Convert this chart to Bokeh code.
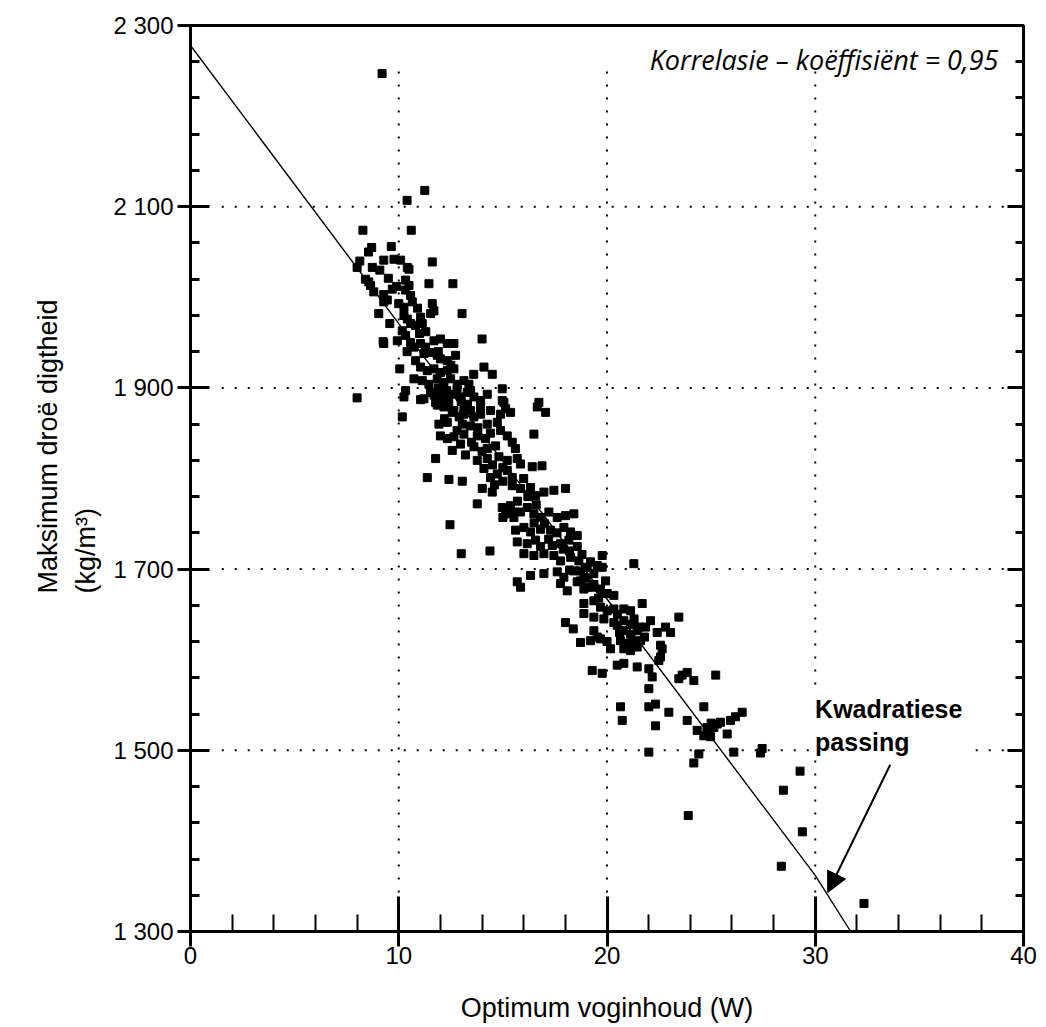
from bokeh.plotting import figure
from bokeh.models import (LinearAxis, FixedTicker, Range1d, Label, Arrow, Title,
                          NormalHead, ColumnDataSource, CustomJSTickFormatter)
from bokeh.embed import file_html
from bokeh.resources import INLINE

# ---------------- data ----------------
moisture = [
    9.2, 11.25, 10.4, 8.28, 10.6, 8.7, 8.55, 9.64, 9.28, 9.77, 10.09, 8.13, 8.0, 8.73, 9.09,
    10.41, 10.49, 11.61, 8.4, 8.65, 8.56, 10.33, 10.49, 10.33, 11.45, 12.6, 8.8, 9.28, 9.69,
    10.57, 10.65, 9.28, 9.45, 10.0, 10.25, 11.61, 11.69, 11.53, 9.04, 10.25, 10.41, 10.57,
    11.05, 11.13, 10.81, 13.04, 9.57, 10.17, 10.33, 9.25, 9.28, 9.93, 10.57, 10.73, 11.05,
    11.29, 11.69, 12.0, 12.33, 12.65, 14.0, 11.21, 11.53, 11.85, 12.0, 12.33, 12.73, 10.81,
    10.05, 11.05, 11.37, 11.69, 12.0, 12.33, 12.65, 14.09, 14.49, 10.73, 11.13, 11.45, 11.85,
    12.17, 12.49, 12.81, 13.13, 13.37, 14.97, 8.0, 10.33, 10.25, 11.05, 11.53, 12.0, 12.33,
    12.65, 12.97, 13.29, 13.61, 13.93, 14.25, 15.05, 11.85, 12.17, 12.65, 13.13, 13.45, 13.93,
    14.41, 14.89, 10.17, 11.21, 11.77, 12.17, 13.45, 14.97, 15.37, 15.13, 16.73, 17.05, 16.65,
    12.57, 13.13, 13.61, 13.93, 11.93, 12.33, 13.05, 13.45, 14.25, 14.73, 14.89, 15.21, 12.0,
    12.33, 12.65, 13.13, 13.77, 14.17, 16.49, 12.57, 12.97, 13.61, 14.25, 14.65, 15.45, 11.77,
    13.77, 14.25, 14.81, 15.21, 15.69, 15.85, 16.41, 16.88, 11.37, 12.41, 13.05, 14.09, 14.41,
    14.73, 15.21, 15.45, 14.01, 14.49, 15.45, 15.85, 16.33, 16.57, 16.97, 17.45, 18.01, 13.77,
    14.97, 15.37, 15.13, 15.53, 15.85, 16.17, 16.49, 16.81, 17.21, 17.61, 18.01, 18.41, 12.46,
    15.61, 16.01, 16.33, 16.81, 17.29, 17.93, 18.25, 18.57, 15.69, 16.17, 16.57, 16.81, 17.37,
    17.77, 18.17, 18.57, 13.0, 14.38, 16.01, 16.49, 16.97, 17.45, 17.77, 18.25, 18.65, 19.21,
    19.77, 16.33, 16.97, 17.61, 17.93, 18.41, 18.89, 19.37, 19.77, 19.93, 15.69, 15.85, 17.77,
    18.09, 18.57, 18.89, 19.37, 19.77, 19.53, 18.73, 19.05, 21.29, 18.73, 19.05, 19.37, 19.69,
    20.01, 20.33, 18.89, 19.37, 19.69, 20.01, 20.33, 20.81, 21.13, 21.69, 18.89, 19.37, 19.85,
    20.33, 20.81, 21.13, 21.53, 22.09, 23.45, 19.37, 19.21, 19.69, 18.73, 20.49, 20.81, 21.13,
    21.45, 21.85, 22.41, 22.81, 23.05, 20.65, 20.97, 21.29, 20.81, 21.13, 21.45, 21.61, 22.57,
    22.65, 20.17, 20.49, 20.81, 19.29, 19.77, 21.45, 22.01, 22.17, 22.49, 22.57, 23.45, 23.85,
    24.17, 23.61, 25.22, 22.01, 20.65, 20.73, 22.01, 22.33, 22.97, 24.65, 22.33, 23.85, 24.33,
    24.65, 24.89, 25.13, 25.29, 25.45, 24.97, 25.77, 25.93, 26.17, 26.49, 22.01, 24.41, 24.17,
    26.09, 27.45, 27.37, 29.27, 28.47, 29.38, 28.37, 32.34, 23.9, 18.01, 18.38, 19.53,
    11.9, 12.3, 12.8, 13.0, 12.4, 11.7, 12.9, 12.2, 13.3, 13.8, 12.8, 13.5, 14.4, 14.0, 13.2,
    14.5, 15.0, 15.6, 15.0, 14.6, 16.0, 16.2, 15.7, 16.6, 17.0, 17.6, 16.5, 17.9, 17.2, 18.2,
    18.8, 19.0, 18.2, 19.6, 20.5, 20.6, 21.3, 20.0, 21.8, 24.8, 25.0, 11.0, 10.9, 11.3, 11.9,
    12.5, 10.4, 9.9, 9.5, 13.6, 15.3, 15.0, 15.5,
]
density = [
    2247, 2118, 2107, 2074, 2074, 2055, 2050, 2056, 2041, 2042, 2041, 2040, 2033, 2033, 2030,
    2033, 2031, 2039, 2020, 2013, 2017, 2019, 2013, 2008, 2015, 2015, 2006, 2003, 2009,
    2002, 1995, 1995, 1997, 1993, 1989, 1993, 1985, 1982, 1982, 1980, 1976, 1971,
    1978, 1971, 1969, 1982, 1971, 1963, 1958, 1951, 1949, 1952, 1950, 1945, 1949,
    1945, 1952, 1954, 1949, 1949, 1954, 1938, 1939, 1936, 1932, 1930, 1936, 1930,
    1921, 1923, 1919, 1921, 1917, 1919, 1921, 1923, 1915, 1910, 1908, 1904, 1910,
    1906, 1910, 1904, 1908, 1904, 1899, 1889, 1897, 1890, 1887, 1895, 1893, 1890,
    1893, 1890, 1895, 1890, 1886, 1893, 1884, 1881, 1879, 1875, 1877, 1875, 1879,
    1875, 1871, 1868, 1888, 1884, 1886, 1897, 1886, 1873, 1877, 1884, 1873, 1879,
    1873, 1871, 1868, 1871, 1860, 1862, 1860, 1858, 1860, 1862, 1853, 1847, 1847,
    1844, 1846, 1849, 1847, 1844, 1849, 1831, 1838, 1835, 1833, 1836, 1840, 1822,
    1820, 1822, 1824, 1820, 1822, 1816, 1813, 1814, 1801, 1799, 1797, 1811, 1801,
    1805, 1809, 1801, 1789, 1785, 1792, 1789, 1790, 1781, 1785, 1787, 1789, 1772,
    1768, 1770, 1761, 1757, 1763, 1768, 1761, 1757, 1763, 1757, 1759, 1761, 1749,
    1743, 1746, 1741, 1744, 1743, 1746, 1741, 1737, 1730, 1728, 1732, 1725, 1726,
    1728, 1732, 1725, 1717, 1720, 1717, 1715, 1717, 1715, 1709, 1713, 1709, 1708,
    1715, 1693, 1695, 1697, 1691, 1698, 1691, 1695, 1702, 1687, 1686, 1680, 1684,
    1676, 1686, 1678, 1680, 1673, 1704, 1698, 1702, 1706, 1687, 1680, 1683, 1678,
    1673, 1671, 1662, 1665, 1658, 1654, 1656, 1656, 1654, 1662, 1651, 1647, 1645,
    1641, 1643, 1639, 1636, 1643, 1647, 1632, 1621, 1623, 1619, 1638, 1632, 1628,
    1632, 1636, 1630, 1636, 1630, 1621, 1618, 1619, 1612, 1610, 1614, 1621, 1616,
    1612, 1612, 1594, 1596, 1588, 1585, 1592, 1590, 1581, 1599, 1603, 1579, 1586,
    1577, 1583, 1583, 1568, 1548, 1533, 1548, 1551, 1542, 1548, 1527, 1533, 1522,
    1516, 1520, 1525, 1529, 1531, 1515, 1518, 1533, 1537, 1542, 1498, 1496, 1486,
    1498, 1502, 1497, 1477, 1456, 1410, 1372, 1331, 1428, 1641, 1634, 1625,
    1900, 1897, 1898, 1885, 1883, 1892, 1868, 1866, 1882, 1856, 1853, 1840, 1850, 1830, 1826,
    1815, 1812, 1833, 1797, 1793, 1800, 1780, 1775, 1771, 1750, 1740, 1751, 1722, 1733, 1720,
    1716, 1690, 1699, 1668, 1650, 1630, 1645, 1620, 1625, 1525, 1530, 1960, 1988, 1962, 1940,
    1925, 1940, 2012, 2021, 1915, 1765, 1757, 1763,
]

# quadratic fit curve ("Kwadratiese passing")
fit_x = [0, 10, 20, 30, 31.7]
fit_y = [2278, 1971, 1667, 1362, 1300]

x_ticks = [0, 10, 20, 30, 40]
x_tick_labels = ["0", "10", "20", "30", "40"]
y_ticks = [1300, 1500, 1700, 1900, 2100, 2300]
y_tick_labels = ["1 300", "1 500", "1 700", "1 900", "2 100", "2 300"]
x_minor = [v for v in range(2, 40, 2) if v % 10 != 0]
y_minor = [v for v in range(1340, 2300, 40) if (v - 1300) % 200 != 0]

grid_x = [10, 20, 30]
grid_y = [1500, 1700, 1900, 2100]

# ---------------- figure ----------------
p = figure(width=1046, height=1027,
           x_range=Range1d(0, 40), y_range=Range1d(1300, 2300),
           output_backend="svg", toolbar_location=None,
           min_border_left=190, min_border_right=23,
           min_border_top=25, min_border_bottom=96)
p.grid.visible = False
p.outline_line_color = "black"
p.outline_line_width = 3
p.background_fill_color = "white"
p.border_fill_color = "white"

FONT = "Liberation Sans"

xa = p.xaxis[0]
xa.ticker = FixedTicker(ticks=x_ticks, minor_ticks=x_minor)
xa.major_label_overrides = {t: l for t, l in zip(x_ticks, x_tick_labels)}
xa.axis_line_width = 3
xa.major_tick_line_width = 3
xa.minor_tick_line_width = 2
xa.major_tick_in = 35
xa.major_tick_out = 15
xa.minor_tick_in = 17
xa.minor_tick_out = 0
xa.major_label_standoff = 0
xa.major_label_text_font = FONT
xa.major_label_text_font_size = "24px"
xa.major_label_text_color = "black"
xa.axis_label = "Optimum voginhoud (W)"
xa.axis_label_text_font = FONT
xa.axis_label_text_font_size = "27px"
xa.axis_label_text_font_style = "normal"
xa.axis_label_standoff = 26
xa.axis_label_text_color = "black"

ya = p.yaxis[0]
ya.ticker = FixedTicker(ticks=y_ticks, minor_ticks=y_minor)
ya.major_label_overrides = {t: l for t, l in zip(y_ticks, y_tick_labels)}
ya.axis_line_width = 3
ya.major_tick_line_width = 3
ya.minor_tick_line_width = 3
ya.major_tick_in = 19
ya.major_tick_out = 13
ya.minor_tick_in = 9
ya.minor_tick_out = 0
ya.major_label_standoff = 4
ya.major_label_text_font = FONT
ya.major_label_text_font_size = "24px"
ya.major_label_text_color = "black"

ra = LinearAxis(ticker=FixedTicker(ticks=y_ticks, minor_ticks=y_minor),
                formatter=CustomJSTickFormatter(code="return '';"))
ra.axis_line_width = 3
ra.major_tick_line_width = 3
ra.minor_tick_line_width = 3
ra.major_tick_in = 16
ra.major_tick_out = 0
ra.minor_tick_in = 8
ra.minor_tick_out = 0
ra.major_label_standoff = 0
p.add_layout(ra, "right")

# y-axis title: two rotated lines, left aligned at the same height
y_title = Title(text="Maksimum droë digtheid\n(kg/m³)", align="left", offset=338,
                standoff=20, text_font=FONT, text_font_size="27px",
                text_font_style="normal", text_color="black",
                text_line_height=1.25)
p.add_layout(y_title, "left")

# dotted grid
p.segment(x0=grid_x, y0=[1300] * len(grid_x), x1=grid_x, y1=[2254] * len(grid_x),
          line_color="black", line_width=2, line_dash="2 11")
p.segment(x0=[1.5] * len(grid_y), y0=grid_y, x1=[39.1] * len(grid_y), y1=grid_y,
          line_color="black", line_width=2, line_dash="2 11")

# fit line
p.line(fit_x, fit_y, line_color="black", line_width=1.4)

# scatter
src = ColumnDataSource(dict(x=moisture, y=density))
p.scatter("x", "y", source=src, marker="square", size=8,
          fill_color="black", line_color="black")

# annotations
p.add_layout(Label(x=22.05, y=2262, text="Korrelasie – koëffisiënt = 0,95",
                   text_font="Open Sans", text_font_style="italic",
                   text_font_size="27px", text_color="black",
                   text_baseline="alphabetic", text_align="left"))

p.add_layout(Label(x=29.8, y=1566, text="Kwadratiese\npassing",
                   text_font=FONT, text_font_style="bold",
                   text_font_size="25px", text_color="black",
                   text_baseline="top", text_align="left",
                   text_line_height=1.2, padding=4,
                   background_fill_color="white"))

p.add_layout(Arrow(end=NormalHead(size=20, fill_color="black", line_color="black"),
                   x_start=33.6, y_start=1484, x_end=30.6, y_end=1343,
                   line_color="black", line_width=2))

open("out.html", "w").write(file_html(p, INLINE))
